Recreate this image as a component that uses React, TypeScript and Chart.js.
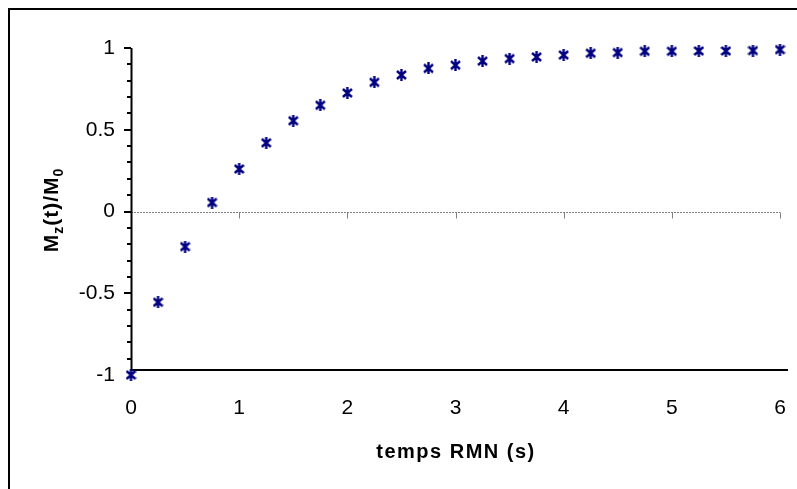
import React, { useEffect, useRef } from "react";
import { Chart, registerables } from "chart.js";

Chart.register(...registerables);

const times = [0, 0.25, 0.5, 0.75, 1, 1.25, 1.5, 1.75, 2, 2.25, 2.5, 2.75, 3, 3.25, 3.5, 3.75, 4, 4.25, 4.5, 4.75, 5, 5.25, 5.5, 5.75, 6];
const mzRatio = [-1, -0.555, -0.215, 0.055, 0.26, 0.42, 0.555, 0.65, 0.725, 0.79, 0.835, 0.875, 0.895, 0.92, 0.935, 0.945, 0.957, 0.968, 0.972, 0.98, 0.98, 0.982, 0.982, 0.984, 0.99];
const yTickValues = [-1, -0.5, 0, 0.5, 1];
const xTickValues = [0, 1, 2, 3, 4, 5, 6];

const FONT = "Arial, 'Liberation Sans', sans-serif";
const NAVY = "#000080";

function makeMarker(): HTMLCanvasElement {
  const c = document.createElement("canvas");
  c.width = 11;
  c.height = 12;
  const g = c.getContext("2d")!;
  g.strokeStyle = NAVY;
  g.lineWidth = 2.4;
  g.lineCap = "butt";
  g.beginPath();
  g.moveTo(1, 2);
  g.lineTo(10, 10);
  g.moveTo(10, 2);
  g.lineTo(1, 10);
  g.moveTo(5.5, 0);
  g.lineTo(5.5, 12);
  g.stroke();
  return c;
}

const decorPlugin = {
  id: "decor",
  beforeDraw(chart: any) {
    const ctx = chart.ctx;
    ctx.save();
    ctx.fillStyle = "#ffffff";
    ctx.fillRect(0, 0, chart.width, chart.height);
    ctx.strokeStyle = "#000000";
    ctx.lineWidth = 2;
    ctx.beginPath();
    ctx.moveTo(9, chart.height + 5);
    ctx.lineTo(9, 9);
    ctx.lineTo(chart.width + 5, 9);
    ctx.stroke();
    ctx.restore();
  },
  beforeDatasetsDraw(chart: any) {
    const ctx = chart.ctx;
    const x = chart.scales.x;
    const y = chart.scales.y;
    const left = chart.chartArea.left;
    const y0 = Math.round(y.getPixelForValue(0)) + 0.5;
    const axisBottom = y.getPixelForValue(-0.97);
    ctx.save();
    ctx.strokeStyle = "#808080";
    ctx.lineWidth = 1;
    ctx.setLineDash([2, 1]);
    ctx.beginPath();
    ctx.moveTo(left, y0);
    ctx.lineTo(x.getPixelForValue(6), y0);
    ctx.stroke();
    ctx.setLineDash([]);
    for (const v of xTickValues) {
      if (v === 0) continue;
      const px = Math.round(x.getPixelForValue(v)) + 0.5;
      ctx.beginPath();
      ctx.moveTo(px, y0);
      ctx.lineTo(px, y0 + 6);
      ctx.stroke();
    }
    ctx.strokeStyle = "#000000";
    ctx.lineWidth = 2;
    ctx.beginPath();
    ctx.moveTo(left + 0.5, y.getPixelForValue(1));
    ctx.lineTo(left + 0.5, axisBottom);
    ctx.stroke();
    ctx.beginPath();
    ctx.moveTo(left - 0.5, axisBottom);
    ctx.lineTo(x.getPixelForValue(6) + 8, axisBottom);
    ctx.stroke();
    for (let i = 10; i >= -9; i--) {
      const v = i / 10;
      const py = Math.round(y.getPixelForValue(v));
      const major = i % 5 === 0;
      ctx.beginPath();
      ctx.moveTo(left - (major ? 7 : 4), py);
      ctx.lineTo(left, py);
      ctx.stroke();
    }
    ctx.fillStyle = "#000000";
    ctx.font = `bold 20px ${FONT}`;
    (ctx as any).letterSpacing = "1.5px";
    ctx.textAlign = "center";
    ctx.textBaseline = "alphabetic";
    ctx.fillText("temps RMN (s)", 456, 458);
    const parts = [
      { t: "M", sub: false },
      { t: "z", sub: true },
      { t: "(t)/M", sub: false },
      { t: "0", sub: true },
    ];
    (ctx as any).letterSpacing = "1px";
    const mainFont = `bold 21px ${FONT}`;
    const subFont = `bold 14px ${FONT}`;
    let total = 0;
    const widths: number[] = [];
    for (const p of parts) {
      ctx.font = p.sub ? subFont : mainFont;
      const w = ctx.measureText(p.t).width;
      widths.push(w);
      total += w;
    }
    ctx.translate(58, 210);
    ctx.rotate(-Math.PI / 2);
    ctx.textAlign = "left";
    let cx = -total / 2;
    parts.forEach((p, i) => {
      ctx.font = p.sub ? subFont : mainFont;
      ctx.fillText(p.t, cx, p.sub ? 5 : 0);
      cx += widths[i];
    });
    ctx.restore();
  },
};

export default function App() {
  const ref = useRef<HTMLCanvasElement | null>(null);
  useEffect(() => {
    if (!ref.current) return;
    const marker = makeMarker();
    const chart = new Chart(ref.current, {
      type: "scatter",
      data: {
        datasets: [
          {
            label: "Mz(t)/M0",
            data: times.map((t, i) => ({ x: t, y: mzRatio[i] })),
            pointStyle: marker as any,
            pointRadius: 6,
            borderColor: NAVY,
            backgroundColor: NAVY,
            clip: false as any,
          },
        ],
      },
      options: {
        animation: false,
        responsive: false,
        events: [],
        layout: { padding: { left: 0, top: 48, right: 17, bottom: 0 } },
        plugins: {
          legend: { display: false },
          tooltip: { enabled: false },
        },
        scales: {
          x: {
            type: "linear",
            min: 0,
            max: 6,
            afterFit: (s: any) => {
              s.height = 114;
              s.paddingLeft = 0;
              s.paddingRight = 0;
            },
            afterBuildTicks: (s: any) => {
              s.ticks = xTickValues.map((v) => ({ value: v }));
            },
            grid: { display: false, drawTicks: false },
            border: { display: false },
            ticks: {
              color: "#000000",
              font: { family: FONT, size: 21 },
              padding: 21,
              maxRotation: 0,
              callback: (v: any) => String(v),
            },
          },
          y: {
            type: "linear",
            min: -1,
            max: 1,
            afterFit: (s: any) => {
              s.width = 131;
              s.paddingTop = 0;
              s.paddingBottom = 0;
            },
            afterBuildTicks: (s: any) => {
              s.ticks = yTickValues.map((v) => ({ value: v }));
            },
            grid: { display: false, drawTicks: false },
            border: { display: false },
            ticks: {
              color: "#000000",
              font: { family: FONT, size: 21 },
              padding: 16,
              callback: (v: any) => String(v),
            },
          },
        },
      },
      plugins: [decorPlugin],
    });
    return () => chart.destroy();
  }, []);
  return (
    <div style={{ position: "fixed", left: 0, top: 0, width: 797, height: 489, background: "#fff" }}>
      <canvas ref={ref} width={797} height={489} style={{ display: "block" }} />
    </div>
  );
}
